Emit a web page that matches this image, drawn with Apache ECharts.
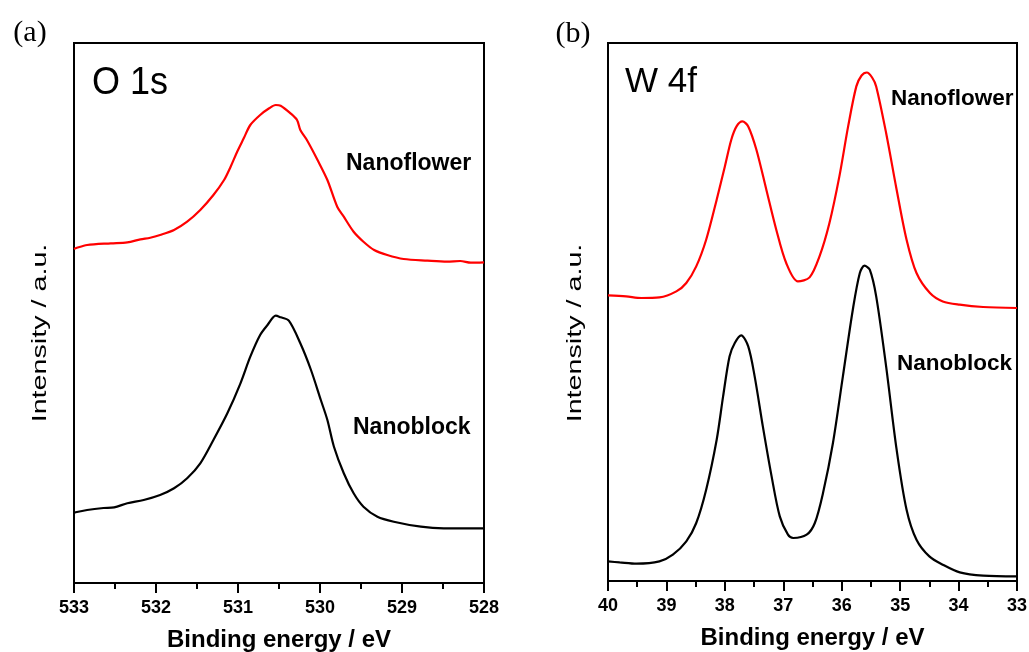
<!DOCTYPE html>
<html>
<head>
<meta charset="utf-8">
<script src="https://cdn.jsdelivr.net/npm/echarts@6/dist/echarts.min.js"></script>
<style>
html,body{margin:0;padding:0;background:#fff;}
#chart{width:1029px;height:652px;}
</style>
</head>
<body>
<div id="chart"></div>
<script>
// ---- Panel (a): O 1s ----
const oFlowerE = [533.0,532.98,532.84,532.55,532.35,532.19,532.07,531.95,531.78,531.62,531.46,531.30,531.17,531.09,531.01,530.93,530.85,530.73,530.62,530.54,530.48,530.36,530.28,530.24,530.16,530.03,529.91,529.79,529.71,529.59,529.47,529.34,529.18,528.98,528.69,528.45,528.29,528.16,528.0];
const oFlowerI = [334,334.7,338,339.7,340.7,343.7,345.3,348,353,361.3,373,388,403,416.3,431.3,444.7,458,468,474.7,478,477.3,469.7,463,453,443,423,403,376.3,366.3,351.3,341.3,333,328,324,322.3,321.3,322,320.3,320.7];
const oBlockE = [533.0,532.98,532.84,532.64,532.51,532.35,532.15,531.95,531.78,531.62,531.46,531.30,531.13,530.97,530.85,530.73,530.64,530.54,530.48,530.38,530.24,530.11,529.99,529.91,529.83,529.71,529.59,529.47,529.30,529.10,528.77,528.49,528.0];
const oBlockI = [70,70.7,73,75,75.7,79.7,83,88,94.7,104.7,119.7,143,169.7,199.7,226.3,248,258,267.3,265.7,262.3,239.7,213,183,163,136.3,109.7,89.7,76.3,66.3,61.3,56.3,54.7,54.7];
// ---- Panel (b): W 4f ----
const wFlowerE = [40.00,39.69,39.43,39.12,38.83,38.66,38.49,38.32,38.14,38.00,37.89,37.80,37.70,37.60,37.46,37.29,37.12,36.95,36.75,36.55,36.38,36.21,36.04,35.89,35.75,35.66,35.57,35.48,35.41,35.24,35.06,34.89,34.72,34.49,34.27,33.98,33.58,33.00];
const wFlowerI = [285.6,284.6,283,283.6,289.6,298,314.6,341.3,381.3,414.6,441.3,454.6,459.6,454.6,431.3,391.3,351.3,318,299.6,303.6,324.6,358,404.6,454.6,494.6,505.5,508.5,503.5,494.6,448,391.3,341.3,308,288,279.6,276.3,274,273];
const wBlockE = [40.00,39.80,39.51,39.12,38.89,38.66,38.49,38.32,38.14,38.03,37.92,37.83,37.72,37.60,37.49,37.35,37.20,37.06,36.92,36.83,36.60,36.46,36.32,36.15,35.98,35.81,35.69,35.61,35.52,35.41,35.24,35.06,34.89,34.72,34.50,34.27,33.98,33.58,33.00];
const wBlockI = [19.6,18.6,17.3,19.6,26.3,39.6,58,91.3,141.3,184.6,224.6,238,245.6,234.6,204.6,154.6,104.6,64.6,46.3,43,46.3,58,88,138,204.6,271.3,308,315.3,311.3,284.6,214.6,131.3,71.3,41.3,24.6,16.3,8.6,5.3,4.6];

const xName = 'Binding energy / eV';
const yName = 'Intensity / a.u.';

const FONT = "Arial, 'Liberation Sans', Helvetica, sans-serif";
const zip = (a, b) => a.map((v, i) => [v, b[i]]);

function xAxisCfg(gi, min, max) {
  return {
    gridIndex: gi, type: 'value', inverse: true, min: min, max: max, interval: 1,
    axisLine: { show: true, lineStyle: { color: '#000', width: 2 } },
    axisTick: { show: true, inside: false, length: 10, lineStyle: { color: '#000', width: 2 } },
    minorTick: { show: true, splitNumber: 2, length: 6, lineStyle: { color: '#000', width: 2 } },
    splitLine: { show: false },
    axisLabel: { color: '#000', fontSize: 18, fontWeight: 'bold', fontFamily: FONT, margin: 16 },
    name: xName, nameLocation: 'middle', nameGap: 45,
    nameTextStyle: { color: '#000', fontSize: 24, fontWeight: 'bold', fontFamily: FONT }
  };
}
function yAxisCfg(gi, max) {
  return {
    gridIndex: gi, type: 'value', min: 0, max: max,
    axisLine: { show: true, lineStyle: { color: '#000', width: 2 } },
    axisTick: { show: false }, axisLabel: { show: false }, splitLine: { show: false }
  };
}
function lineSeries(xi, data, color) {
  return {
    type: 'line', xAxisIndex: xi, yAxisIndex: xi, data: data, showSymbol: false,
    smooth: 0.3, lineStyle: { color: color, width: 2.2 }, silent: true, animation: false
  };
}
function txt(x, y, text, size, weight, extra) {
  return Object.assign({
    type: 'text', x: x, y: y,
    style: { text: text, font: weight + ' ' + size + 'px ' + FONT, fill: '#000', textAlign: 'left', textVerticalAlign: 'middle' }
  }, extra || {});
}

const chart = echarts.init(document.getElementById('chart'), null, { renderer: 'canvas' });
chart.setOption({
  backgroundColor: '#fff',
  animation: false,
  grid: [
    { left: 74, width: 410, top: 43, height: 540, show: true, borderColor: '#000', borderWidth: 2, backgroundColor: 'transparent', containLabel: false, outerBoundsMode: 'none' },
    { left: 608, width: 409, top: 43, height: 538, show: true, borderColor: '#000', borderWidth: 2, backgroundColor: 'transparent', containLabel: false, outerBoundsMode: 'none' }
  ],
  xAxis: [xAxisCfg(0, 528, 533), xAxisCfg(1, 33, 40)],
  yAxis: [yAxisCfg(0, 540), yAxisCfg(1, 538)],
  series: [
    lineSeries(0, zip(oFlowerE, oFlowerI), '#ff0000'),
    lineSeries(0, zip(oBlockE, oBlockI), '#000000'),
    lineSeries(1, zip(wFlowerE, wFlowerI), '#ff0000'),
    lineSeries(1, zip(wBlockE, wBlockI), '#000000')
  ],
  graphic: [
    { type: 'text', x: 30, y: 33, style: { text: '(a)', font: "30px 'Liberation Serif', 'Times New Roman', serif", fill: '#000', textAlign: 'center', textVerticalAlign: 'middle' } },
    { type: 'text', x: 573, y: 34, style: { text: '(b)', font: "30px 'Liberation Serif', 'Times New Roman', serif", fill: '#000', textAlign: 'center', textVerticalAlign: 'middle' } },
    txt(92, 83, 'O 1s', 36, 'normal', { scaleY: 1.1 }),
    txt(625, 82, 'W 4f', 35, 'normal'),
    txt(346, 164, 'Nanoflower', 23, 'bold'),
    txt(353, 428, 'Nanoblock', 23, 'bold'),
    txt(891, 99, 'Nanoflower', 22.5, 'bold'),
    txt(897, 364, 'Nanoblock', 22.5, 'bold'),
    { type: 'text', x: 40, y: 333, rotation: Math.PI / 2, scaleX: 1.4,
      style: { text: yName, font: 'normal 20.5px ' + FONT, fill: '#000', textAlign: 'center', textVerticalAlign: 'middle' } },
    { type: 'text', x: 575, y: 333, rotation: Math.PI / 2, scaleX: 1.4,
      style: { text: yName, font: 'normal 20.5px ' + FONT, fill: '#000', textAlign: 'center', textVerticalAlign: 'middle' } }
  ]
});
</script>
</body>
</html>
